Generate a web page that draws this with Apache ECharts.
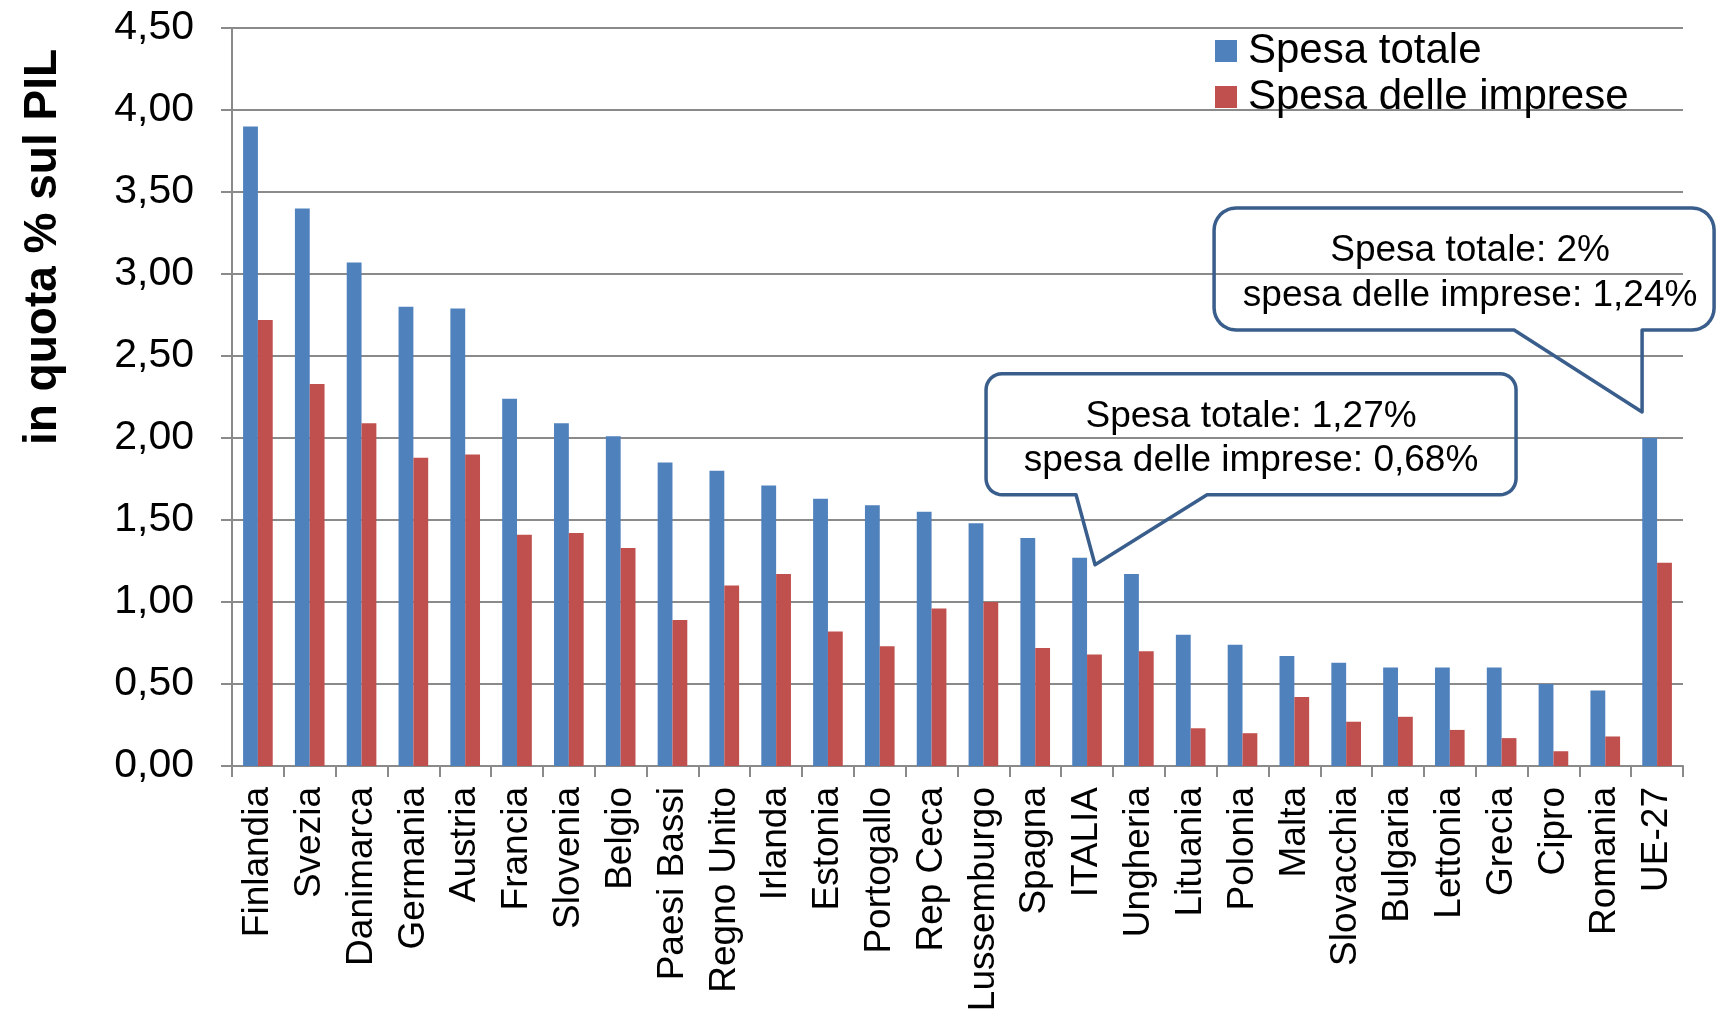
<!DOCTYPE html>
<html>
<head>
<meta charset="utf-8">
<title>Spesa in R&amp;S in quota % sul PIL</title>
<script src="https://cdn.jsdelivr.net/npm/echarts@6/dist/echarts.min.js"></script>
<style>
  html, body { margin: 0; padding: 0; background: #ffffff; }
  #chart { width: 1717px; height: 1013px; }
</style>
</head>
<body>
<div id="chart"></div>
<script>
// Paesi, ordinati per spesa totale, con la media UE-27 in fondo
const categories = [
  'Finlandia', 'Svezia', 'Danimarca', 'Germania', 'Austria', 'Francia', 'Slovenia',
  'Belgio', 'Paesi Bassi', 'Regno Unito', 'Irlanda', 'Estonia', 'Portogallo',
  'Rep Ceca', 'Lussemburgo', 'Spagna', 'ITALIA', 'Ungheria', 'Lituania', 'Polonia',
  'Malta', 'Slovacchia', 'Bulgaria', 'Lettonia', 'Grecia', 'Cipro', 'Romania', 'UE-27'
];

// Spesa totale in R&S (% del PIL)
const spesaTotale = [
  3.90, 3.40, 3.07, 2.80, 2.79, 2.24, 2.09, 2.01, 1.85, 1.80, 1.71, 1.63, 1.59,
  1.55, 1.48, 1.39, 1.27, 1.17, 0.80, 0.74, 0.67, 0.63, 0.60, 0.60, 0.60, 0.50, 0.46, 2.00
];

// Spesa delle imprese in R&S (% del PIL)
const spesaImprese = [
  2.72, 2.33, 2.09, 1.88, 1.90, 1.41, 1.42, 1.33, 0.89, 1.10, 1.17, 0.82, 0.73,
  0.96, 1.00, 0.72, 0.68, 0.70, 0.23, 0.20, 0.42, 0.27, 0.30, 0.22, 0.17, 0.09, 0.18, 1.24
];

const seriesNames = ['Spesa totale', 'Spesa delle imprese'];
const axisTitle = 'in quota % sul PIL';
const yMin = 0, yMax = 4.5, yStep = 0.5;

// Paesi evidenziati con un fumetto
const calloutCountries = ['ITALIA', 'UE-27'];

const FONT = '"Liberation Sans", Arial, Helvetica, sans-serif';
const BLUE = '#4F81BD';
const RED = '#C0504D';
const GRID_GREY = '#8a8a8a';
const CALLOUT_BLUE = '#3A5E8C';

const itNum = (v, d) => v.toFixed(d).replace('.', ',');
const itShort = v => String(v).replace('.', ',');

const chart = echarts.init(document.getElementById('chart'), null, { renderer: 'canvas' });

chart.setOption({
  animation: false,
  backgroundColor: '#ffffff',
  textStyle: { fontFamily: FONT },
  grid: {
    left: 232, right: 34, top: 28, bottom: 247,
    containLabel: false, outerBoundsMode: 'none'
  },
  legend: {
    orient: 'vertical',
    left: 1215, top: 30,
    padding: 0,
    itemWidth: 22, itemHeight: 22, itemGap: 4,
    icon: 'rect',
    textStyle: { fontFamily: FONT, fontSize: 42, color: '#000', lineHeight: 40, padding: [0, 0, 0, 6] },
    data: seriesNames
  },
  xAxis: {
    type: 'category',
    data: categories,
    axisLine: { show: true, lineStyle: { color: GRID_GREY, width: 2 } },
    axisTick: { show: true, length: 11, alignWithLabel: false, interval: 0,
                lineStyle: { color: GRID_GREY, width: 2 } },
    axisLabel: { interval: 0, rotate: 90, margin: 21, color: '#000',
                 fontFamily: FONT, fontSize: 37 },
    splitLine: { show: false }
  },
  yAxis: {
    type: 'value',
    min: yMin, max: yMax, interval: yStep,
    axisLine: { show: true, lineStyle: { color: GRID_GREY, width: 2 } },
    axisTick: { show: true, length: 11, lineStyle: { color: GRID_GREY, width: 2 } },
    axisLabel: { margin: 38, color: '#000', fontFamily: FONT, fontSize: 41,
                 formatter: v => itNum(v, 2) },
    splitLine: { show: true, lineStyle: { color: GRID_GREY, width: 2 } }
  },
  series: [
    { name: seriesNames[0], type: 'bar', data: spesaTotale, barWidth: '28.6%', barGap: '0%',
      itemStyle: { color: BLUE } },
    { name: seriesNames[1], type: 'bar', data: spesaImprese, barWidth: '28.6%', barGap: '0%',
      itemStyle: { color: RED } }
  ]
});

// Punti di un arco di cerchio (angoli in gradi, y verso il basso)
function arcPoints(cx, cy, rad, a0, a1, n) {
  const pts = [];
  for (let k = 0; k <= n; k++) {
    const a = (a0 + (a1 - a0) * k / n) * Math.PI / 180;
    pts.push([cx + rad * Math.cos(a), cy + rad * Math.sin(a)]);
  }
  return pts;
}

// Contorno del fumetto: rettangolo arrotondato con punta sul lato inferiore
function bubblePoints(l, t, r, b, rad, x1, x2, tx, ty) {
  return [].concat(
    arcPoints(r - rad, t + rad, rad, -90, 0, 8),
    arcPoints(r - rad, b - rad, rad, 0, 90, 8),
    [[x2, b], [tx, ty], [x1, b]],
    arcPoints(l + rad, b - rad, rad, 90, 180, 8),
    arcPoints(l + rad, t + rad, rad, 180, 270, 8)
  );
}

// Disposizione dei fumetti rispetto alla cima della barra "Spesa totale"
const calloutLayout = {
  'ITALIA': { box: [-101, -184, 429, -63], rad: 16, tail: [-11, 120], tip: [8, 7],
              text: [164, -119], lineHeight: 44 },
  'UE-27':  { box: [-443, -230, 57, -108], rad: 22, tail: [-143, -15], tip: [-15, -26],
              text: [-187, -165], lineHeight: 45 }
};

const graphics = [];
calloutCountries.forEach(name => {
  const i = categories.indexOf(name);
  const tot = spesaTotale[i], imp = spesaImprese[i];
  const p = chart.convertToPixel({ xAxisIndex: 0, yAxisIndex: 0 }, [i, tot]);
  const c = calloutLayout[name];
  const [l, t, r, b] = c.box;
  graphics.push({
    type: 'polygon',
    x: p[0], y: p[1],
    shape: { points: bubblePoints(l, t, r, b, c.rad, c.tail[0], c.tail[1], c.tip[0], c.tip[1]) },
    style: { fill: 'none', stroke: CALLOUT_BLUE, lineWidth: 3.5, lineJoin: 'round' },
    z: 100
  });
  graphics.push({
    type: 'text',
    x: p[0] + c.text[0], y: p[1] + c.text[1],
    style: {
      text: 'Spesa totale: ' + itShort(tot) + '%\nspesa delle imprese: ' + itShort(imp) + '%',
      font: '37px ' + FONT,
      fill: '#000',
      textAlign: 'center',
      textVerticalAlign: 'middle',
      verticalAlign: 'middle',
      lineHeight: c.lineHeight
    },
    z: 101
  });
});

// Titolo dell'asse verticale
graphics.push({
  type: 'text',
  x: 43, y: 247,
  rotation: Math.PI / 2,
  style: {
    text: axisTitle,
    font: 'bold 46px ' + FONT,
    fill: '#000',
    textAlign: 'center',
    textVerticalAlign: 'middle',
    verticalAlign: 'middle'
  },
  z: 50
});

chart.setOption({ graphic: graphics });
</script>
</body>
</html>
